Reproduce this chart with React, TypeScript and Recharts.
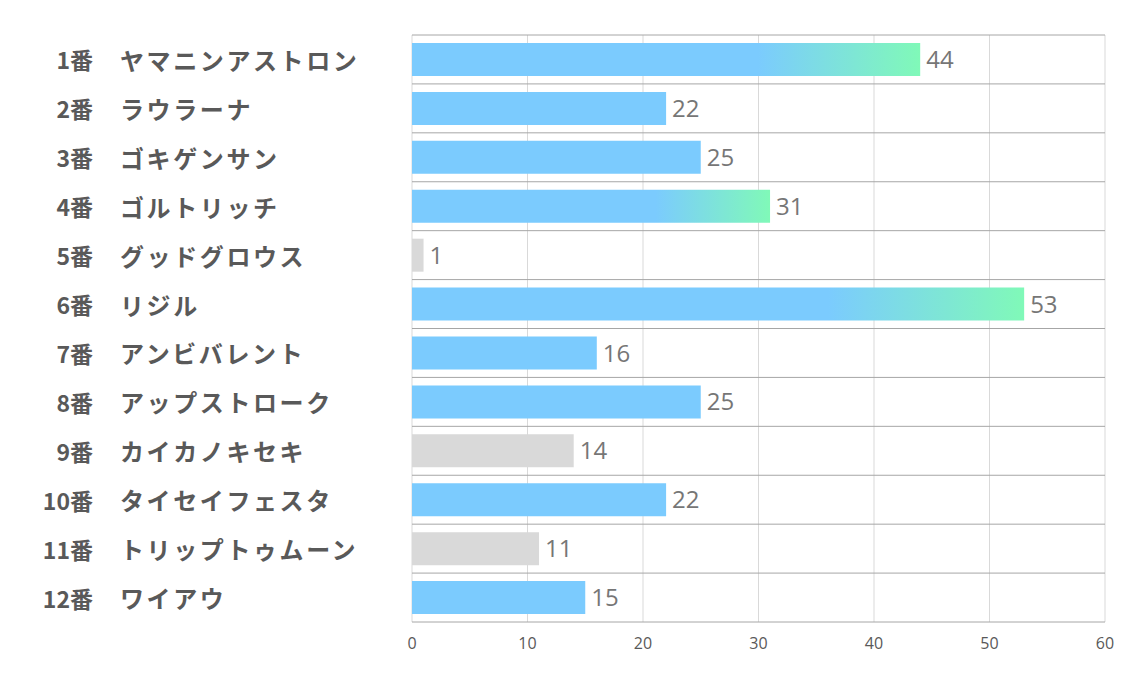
import React from "react";
import { BarChart, Bar, XAxis, YAxis, CartesianGrid, Cell, LabelList } from "recharts";

const numbers = ["1番", "2番", "3番", "4番", "5番", "6番", "7番", "8番", "9番", "10番", "11番", "12番"];
const names = [
  "ヤマニンアストロン",
  "ラウラーナ",
  "ゴキゲンサン",
  "ゴルトリッチ",
  "グッドグロウス",
  "リジル",
  "アンビバレント",
  "アップストローク",
  "カイカノキセキ",
  "タイセイフェスタ",
  "トリップトゥムーン",
  "ワイアウ",
];
const values = [44, 22, 25, 31, 1, 53, 16, 25, 14, 22, 11, 15];
// style kind per horse: "g" gradient, "b" blue, "x" grey
const kinds = ["g", "b", "b", "g", "x", "g", "b", "b", "x", "b", "x", "b"];
const xTicks = [0, 10, 20, 30, 40, 50, 60];

const data = numbers.map((n, i) => ({ key: String(i), num: n, name: names[i], value: values[i], kind: kinds[i] }));

const BLUE = "#7BCBFE";
const GREEN = "#80F9B8";
const GREY = "#D9D9D9";
const LABEL_FONT = "'Noto Sans CJK JP', 'Noto Sans', sans-serif";

const YTick = (props: any) => {
  const { y, payload } = props;
  const idx = Number(payload.value);
  return (
    <g>
      <text x={93} y={y} textAnchor="end" dominantBaseline="central" fill="#595959" fontSize={23} fontWeight="bold" fontFamily={LABEL_FONT} letterSpacing={0}>
        {numbers[idx]}
      </text>
      <text x={120} y={y} textAnchor="start" dominantBaseline="central" fill="#595959" fontSize={24} fontWeight="bold" fontFamily={LABEL_FONT} letterSpacing={2.6}>
        {names[idx]}
      </text>
    </g>
  );
};

const rowBoundaries = ({ offset }: any) => {
  const n = data.length;
  const out: number[] = [];
  for (let i = 0; i <= n; i++) out.push(offset.top + (offset.height * i) / n);
  return out;
};

export default function App() {
  return (
    <div style={{ position: "absolute", left: 0, top: 0, width: 1134, height: 680, background: "#fff" }}>
      <BarChart
        width={1134}
        height={680}
        data={data}
        layout="vertical"
        margin={{ top: 35, right: 29, bottom: 18, left: 0 }}
        barSize={33}
      >
        <defs>
          <linearGradient id="barGrad" x1="0" y1="0" x2="1" y2="0">
            <stop offset="0" stopColor={BLUE} />
            <stop offset="0.68" stopColor={BLUE} />
            <stop offset="1" stopColor={GREEN} />
          </linearGradient>
        </defs>
        <CartesianGrid horizontal={false} vertical={true} stroke="#D9D9D9" strokeWidth={1} />
        <CartesianGrid
          horizontal={true}
          vertical={false}
          stroke="#A6A6A6"
          strokeWidth={1}
          horizontalCoordinatesGenerator={rowBoundaries}
        />
        <XAxis
          type="number"
          domain={[0, 60]}
          ticks={xTicks}
          axisLine={false}
          tickLine={false}
          height={40}
          tickMargin={10}
          tick={{ fill: "#595959", fontSize: 16, fontFamily: "'Open Sans', sans-serif" }}
        />
        <YAxis type="category" dataKey="key" width={412} axisLine={false} tickLine={false} tick={<YTick />} interval={0} />
        <Bar dataKey="value" isAnimationActive={false}>
          {data.map((d, i) => (
            <Cell key={i} fill={d.kind === "g" ? "url(#barGrad)" : d.kind === "x" ? GREY : BLUE} />
          ))}
          <LabelList
            dataKey="value"
            position="right"
            offset={6}
            fill="#767676"
            fontSize={24}
            fontFamily="'Open Sans', sans-serif"
          />
        </Bar>
      </BarChart>
    </div>
  );
}
